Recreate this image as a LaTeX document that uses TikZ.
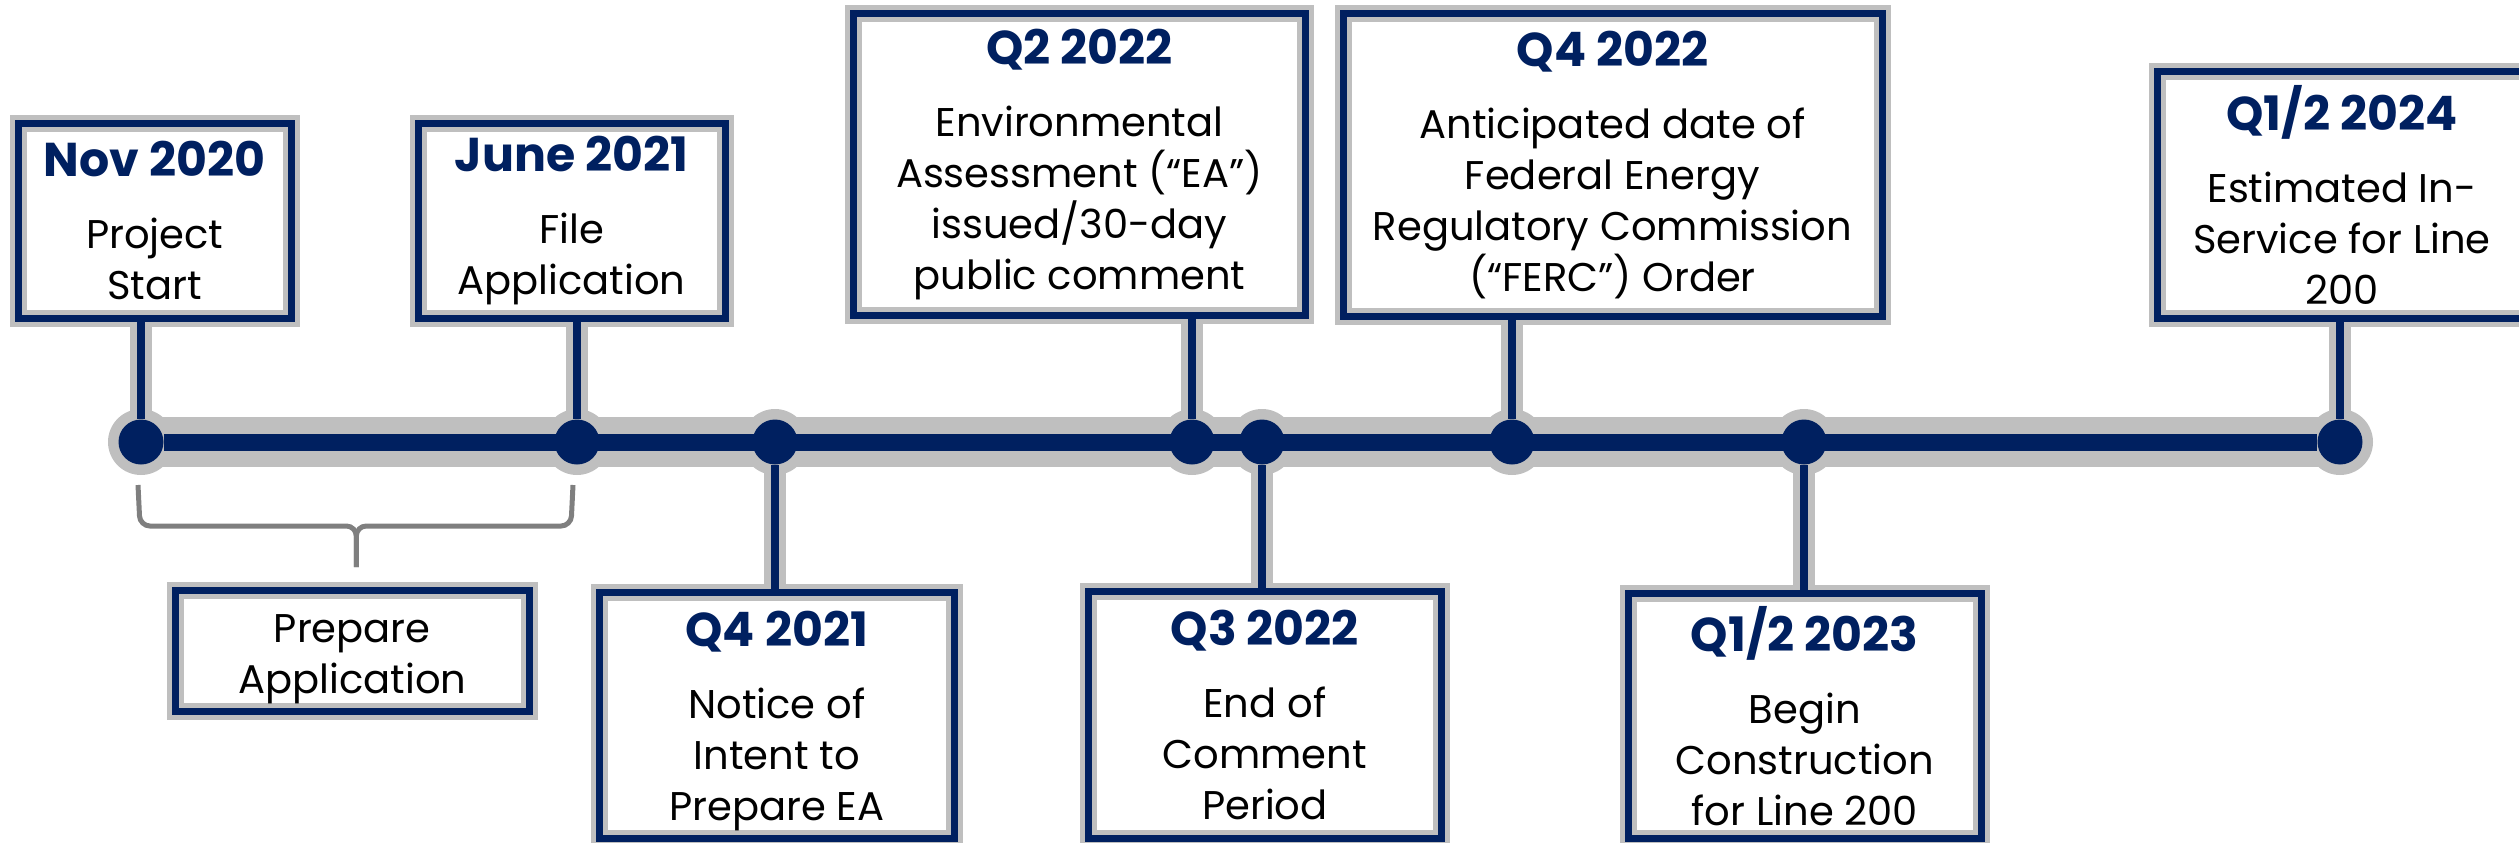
\documentclass[tikz,border=0pt]{standalone}
\usepackage{fontspec}
\setmainfont{Poppins}
\usepackage{tikz}
\usetikzlibrary{calc}

\definecolor{tlnavy}{HTML}{002060}
\definecolor{tlgray}{HTML}{BFBFBF}
\definecolor{bracegray}{HTML}{7F7F7F}

\pgfdeclarelayer{back}
\pgfsetlayers{back,main}

\newcommand{\evdate}[1]{{\fontsize{13.5}{14.5}\selectfont\bfseries\color{tlnavy}#1}\\[6pt]}

\tikzset{
  evbox/.style={rectangle, fill=white, draw=tlgray, double=tlnavy,
    double distance=0.07cm, line width=0.05cm, inner sep=0pt, outer sep=0pt,
    align=center, font=\fontsize{11.4}{14.5}\selectfont},
  evdot/.style={circle, fill=tlnavy, minimum size=0.45cm, inner sep=0pt},
  stem/.style={tlnavy, line width=0.08cm},
  stemback/.style={tlgray, line width=0.22cm},
  bracepath/.style={bracegray, line width=0.05cm, rounded corners=0.1cm}
}

\begin{document}
\begin{tikzpicture}
    \path[use as bounding box] (0,-8.43) rectangle (25.19,0);
    \clip (0,-8.43) rectangle (25.19,0);

    \node[evbox, minimum width=2.725cm, minimum height=1.95cm] (nov20) at (1.548,-2.205)
      {\evdate{Nov 2020}Project\\Start};
    \node[evbox, minimum width=3.07cm, minimum height=1.95cm] (jun21) at (5.715,-2.205)
      {\evdate{June 2021}File\\Application};
    \node[evbox, minimum width=4.52cm, minimum height=3.015cm] (q222) at (10.795,-1.643)
      {\evdate{Q2 2022}Environmental\\Assessment (“EA”)\\issued/30-day\\public comment};
    \node[evbox, minimum width=5.39cm, minimum height=3.025cm] (q422) at (16.125,-1.648)
      {\evdate{Q4 2022}Anticipated date of\\Federal Energy\\Regulatory Commission\\(“FERC”) Order};
    \node[evbox, minimum width=3.70cm, minimum height=2.47cm] (q124) at (23.42,-1.95)
      {\evdate{Q1/2 2024}Estimated In-\\Service for Line\\200};

    \node[evbox, minimum width=3.535cm, minimum height=1.21cm] (prep) at (3.523,-6.505)
      {\rule{0pt}{13pt}Prepare\\Application};
    \node[evbox, minimum width=3.545cm, minimum height=2.46cm] (q421) at (7.768,-7.155)
      {\evdate{Q4 2021}Notice of\\Intent to\\\smash{Prepare EA}};
    \node[evbox, minimum width=3.525cm, minimum height=2.47cm] (q322) at (12.648,-7.15)
      {\evdate{Q3 2022}End of\\Comment\\Period};
    \node[evbox, minimum width=3.525cm, minimum height=2.455cm] (q123) at (18.048,-7.158)
      {\evdate{Q1/2 2023}Begin\\Construction\\for Line 200};

    \foreach \n/\x in {1/1.41, 2/5.77, 3/7.75, 4/11.92, 5/12.62, 6/15.12, 7/18.04, 8/23.40}
      \node[evdot] (d\n) at (\x,-4.42) {};

    \begin{pgfonlayer}{back}
      \draw[tlgray, line width=0.5cm] (d1.center) -- (d8.center);
      \foreach \n in {1,...,8}
        \fill[tlgray] (d\n.center) circle (0.33cm);
      \foreach \n/\b in {1/nov20, 2/jun21, 4/q222, 6/q422, 8/q124}
        \draw[stemback] (d\n.center) -- (d\n |- \b.south);
      \foreach \n/\b in {3/q421, 5/q322, 7/q123}
        \draw[stemback] (d\n.center) -- (d\n |- \b.north);
    \end{pgfonlayer}

    \draw[tlnavy, line width=0.17cm] (d1) -- (d8);
    \foreach \n/\b in {1/nov20, 2/jun21, 4/q222, 6/q422, 8/q124}
      \draw[stem] (d\n) -- (d\n |- \b.south);
    \foreach \n/\b in {3/q421, 5/q322, 7/q123}
      \draw[stem] (d\n) -- (d\n |- \b.north);

    \coordinate (tip) at ($(prep.north)+(0.04,0.23)$);
    \draw[bracepath] ($(d1.center)+(-0.03,-0.43)$) -- ($(d1.center)+(-0.01,-0.84)$) -| (tip);
    \draw[bracepath] ($(d2.center)+(-0.04,-0.43)$) -- ($(d2.center)+(-0.06,-0.84)$) -| (tip);
\end{tikzpicture}
\end{document}
